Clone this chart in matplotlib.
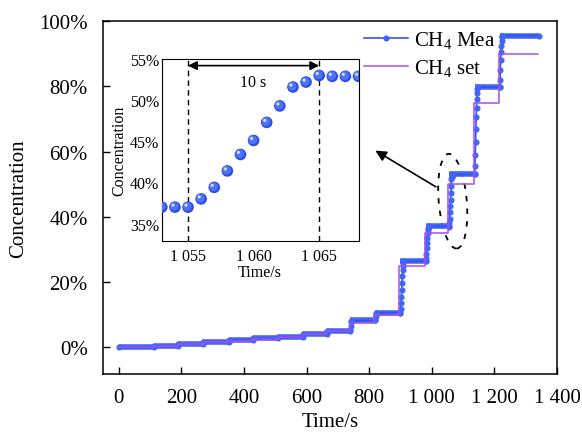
import numpy as np
import matplotlib
matplotlib.use('Agg')
import matplotlib.pyplot as plt
from matplotlib.patches import Ellipse
from matplotlib.transforms import ScaledTranslation, offset_copy
from matplotlib.ticker import FuncFormatter

plt.rcParams['font.family'] = ['Liberation Serif', 'DejaVu Serif']
plt.rcParams['mathtext.fontset'] = 'custom'
plt.rcParams['mathtext.rm'] = 'Liberation Serif'

# measured CH4 plateaus (start time of each level, level in %)
mea_t = [0, 112, 190, 270, 352, 430, 510, 590, 665, 740, 820, 900, 981, 1055, 1137, 1217]
mea_lvl = [0.0, 0.4, 1.0, 1.6, 2.2, 2.7, 3.2, 4.1, 4.9, 8.2, 10.6, 26.4, 37.1, 53.0, 79.8, 95.6]
mea_end = 1343

# set CH4 concentration
set_t = [0, 110, 188, 268, 350, 428, 508, 588, 663, 738, 817, 897, 978, 1052, 1134, 1214]
set_lvl = [0, 0.5, 1, 1.5, 2, 2.5, 3, 4, 5, 7.5, 10, 25, 35, 50, 75, 90]
set_end = 1340

# zoomed response (inset)
ins_t = [1053, 1054, 1055, 1056, 1057, 1058, 1059, 1060, 1061, 1062, 1063, 1064, 1065, 1066, 1067, 1068]
ins_y = [37.0, 37.0, 37.0, 38.0, 39.4, 41.4, 43.4, 45.1, 47.3, 49.3, 51.6, 52.2, 53.0, 52.9, 52.9, 52.9]

# measured points along the larger rises
ramps = {
	740: ([740, 741, 742, 743], [5.2, 6.5, 7.6, 8.1]),
	820: ([820, 821, 822, 823], [8.5, 9.5, 10.3, 10.6]),
	900: ([900, 901, 902, 903, 904, 905, 906, 907, 908, 909, 910],
	      [10.6, 11.8, 13.5, 15.5, 17.7, 19.8, 21.8, 23.6, 25.0, 25.9, 26.4]),
	981: ([981, 982, 983, 984, 985, 986, 987, 988, 989, 990, 991],
	      [26.4, 27.3, 28.7, 30.3, 32.0, 33.6, 35.0, 36.0, 36.7, 37.0, 37.1]),
	1055: ([t for t in ins_t if t >= 1055], [y for t, y in zip(ins_t, ins_y) if t >= 1055]),
	1137: ([1137, 1138, 1139, 1140, 1141, 1142, 1143, 1144, 1145, 1146, 1147],
	       [53.0, 55.5, 59.0, 63.0, 67.0, 70.5, 73.5, 76.0, 78.0, 79.3, 79.8]),
	1217: ([1217, 1218, 1219, 1220, 1221, 1222, 1223, 1224, 1225, 1226],
	       [79.8, 82.0, 85.0, 88.0, 90.5, 92.5, 94.0, 95.0, 95.4, 95.6]),
}

blue = '#2f55f0'
blue_m = '#4366f3'
purple = '#a94cf2'

mt, my = [], []
for i in range(len(mea_t)):
	if mea_t[i] in ramps:
		mt += ramps[mea_t[i]][0]
		my += ramps[mea_t[i]][1]
	else:
		mt.append(mea_t[i]); my.append(mea_lvl[i])
	end = mea_t[i+1] if i+1 < len(mea_t) else mea_end
	mt.append(end); my.append(mea_lvl[i])
plat_end = mea_t[1:] + [mea_end]

fig = plt.figure(figsize=(5.82, 4.35), dpi=100)
ax = fig.add_axes([0.177, 0.138, 0.780, 0.811])

##################### main curves ########################
ax.hlines(mea_lvl, mea_t, plat_end, color=blue_m, lw=4.0, zorder=2)
ax.plot(mt, my, color=blue, lw=1.2, marker='o', ms=3.4, mfc=blue_m, mec=blue_m,
	label=r'CH$_\mathrm{4}$ Mea', zorder=3)
ax.step(set_t + [set_end], set_lvl + [set_lvl[-1]], where='post', color=purple, lw=1.1,
	label=r'CH$_\mathrm{4}$ set', zorder=4)

ax.set_xlim(-50, 1400)
ax.set_ylim(-8.2, 100)
ax.set_xticks(np.arange(0, 1401, 200))
ax.set_yticks(np.arange(0, 101, 20))
sep = lambda v, p: ('{:,}'.format(int(round(v)))).replace(',', ' ')
ax.xaxis.set_major_formatter(FuncFormatter(sep))
ax.yaxis.set_major_formatter(FuncFormatter(lambda v, p: '%d%%' % v))
ax.tick_params(direction='in', length=5, width=1, labelsize=15)
ax.tick_params(axis='x', pad=10)
ax.tick_params(axis='y', pad=11)
ax.set_xlabel('Time/s', fontsize=15, labelpad=4)
ax.set_ylabel('Concentration', fontsize=15, labelpad=8)
for s in ax.spines.values(): s.set_linewidth(1.1)

ax.legend(loc='upper left', bbox_to_anchor=(0.553, 1.006), frameon=False, fontsize=15,
	handlelength=2.1, handletextpad=0.3, labelspacing=0.3, borderpad=0.0)

##################### ellipse + arrow ########################
ell = Ellipse((0, 0), 0.28, 0.95, angle=5, fill=False, color='k', lw=1.3, ls=(0, (3, 4)),
	transform=fig.dpi_scale_trans + ScaledTranslation(1067, 44.8, ax.transData))
ax.add_patch(ell)
ax.annotate('', xy=(820, 60.3), xytext=(1013, 49.2),
	arrowprops=dict(arrowstyle='-|>', color='k', lw=1.2, mutation_scale=16, shrinkA=0, shrinkB=0))

##################### inset ########################
axi = fig.add_axes([0.278, 0.444, 0.338, 0.418])
axi.scatter(ins_t, ins_y, s=70, color='#2c4de6', edgecolors='none', zorder=3)
tr = offset_copy(axi.transData, fig=fig, x=-0.7, y=0.7, units='dots')
axi.scatter(ins_t, ins_y, s=40, color='#4f72f7', edgecolors='none', zorder=4, transform=tr)
tr2 = offset_copy(axi.transData, fig=fig, x=-2.0, y=2.0, units='dots')
axi.scatter(ins_t, ins_y, s=5, color='#d8e0ff', edgecolors='none', zorder=5, transform=tr2)

axi.axvline(1055, color='k', ls=(0, (4, 3)), lw=1)
axi.axvline(1065, color='k', ls=(0, (4, 3)), lw=1)
axi.annotate('', xy=(1055, 54.2), xytext=(1065, 54.2),
	arrowprops=dict(arrowstyle='<|-|>', color='k', lw=1.2, mutation_scale=13, shrinkA=0, shrinkB=0))
axi.text(1060, 52.2, '10 s', ha='center', va='center', fontsize=11.5)

axi.set_xlim(1053, 1068)
axi.set_ylim(32.9, 55)
axi.set_xticks([1055, 1060, 1065])
axi.set_yticks([35, 40, 45, 50, 55])
axi.xaxis.set_major_formatter(FuncFormatter(sep))
axi.yaxis.set_major_formatter(FuncFormatter(lambda v, p: '%d%%' % v))
axi.tick_params(length=0, labelsize=11.5)
axi.tick_params(axis='x', pad=5)
axi.tick_params(axis='y', pad=2)
axi.set_xlabel('Time/s', fontsize=11.5, labelpad=0)
axi.set_ylabel('Concentration', fontsize=11.5, labelpad=2)

plt.savefig('out.png', dpi=100)
